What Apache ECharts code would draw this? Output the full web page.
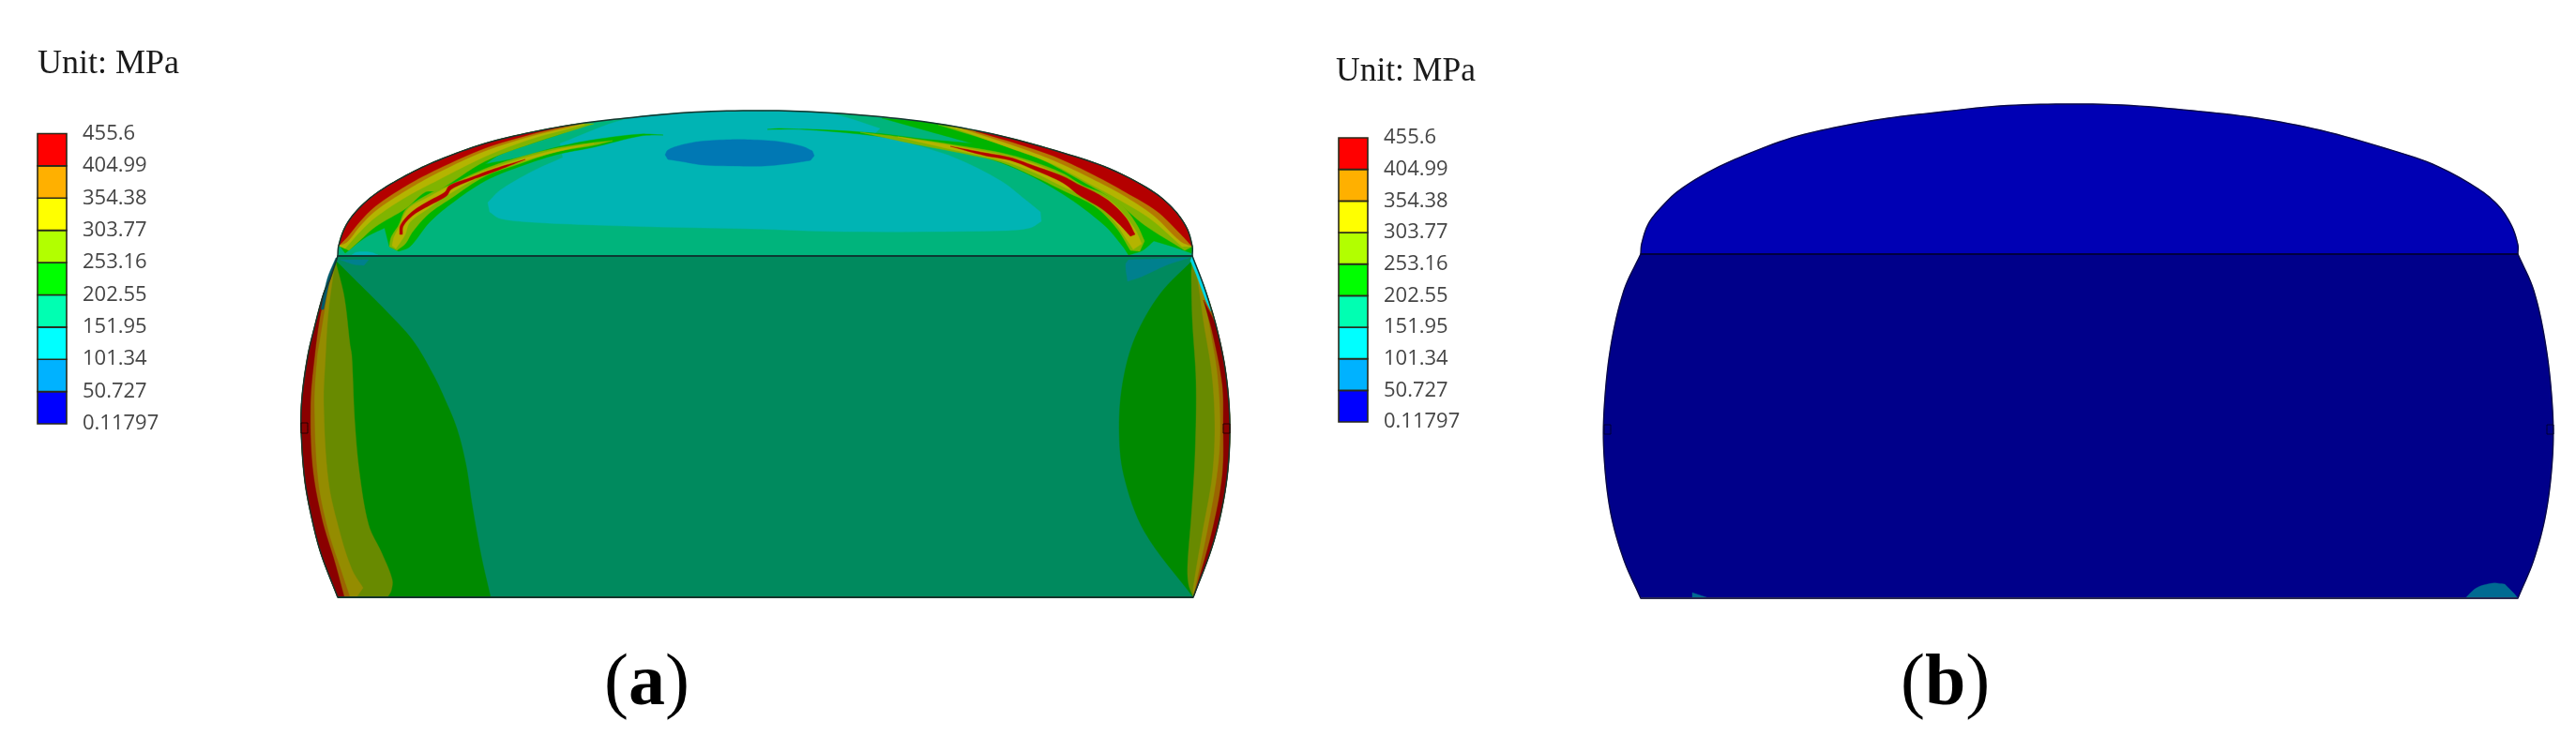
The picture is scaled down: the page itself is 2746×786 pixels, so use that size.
<!DOCTYPE html>
<html><head><meta charset="utf-8">
<style>html,body{margin:0;padding:0;background:#fff;overflow:hidden}#c{width:2746px;height:786px;filter:blur(0.6px)}</style>
<script src="https://cdn.jsdelivr.net/npm/echarts@6/dist/echarts.min.js"></script>
</head><body><div id="c"></div>
<script>
// Contour scale
const legendTicks = ['0.11797','50.727','101.34','151.95','202.55','253.16','303.77','354.38','404.99','455.6'];
const legendColors = ['#0000ff','#00b2ff','#00ffff','#00ffb2','#00ff00','#b2ff00','#ffff00','#ffb000','#ff0000'];
const unitLabel = 'Unit: MPa';
const captions = ['a','b'];

// Panel (a): outline, in picture units
const domeLeftEdge = [[361,262],[368,242],[380,225],[400,207],[433,187],[467,171],[517,153],[567,141],[617,132],[667,126]];
const domeTopEdge = [[733,120],[800,118]];
const domeRightEdge = [[860,119],[933,124],[1000,132],[1067,145],[1133,163],[1183,180],[1227,203],[1250,222],[1265,243],[1271,263]];
const bodyLeftEdge = [[360,273],[352,297],[345,313],[335,350],[328,380],[322,423],[321,457],[325,513],[334,560],[343,593],[360,637]];
const bodyRightEdge = [[1271,273],[1284,307],[1297,350],[1307,400],[1311,457],[1307,517],[1294,577],[1272,637]];

// Panel (a): dome contours
const capTeal = [[520,216],[522,226],[533,233],[567,237],[633,240],[700,242],[800,244],[900,247],[1069,246],[1098,243],[1110,236],[1109,226],[1093,213],[1067,193],[1017,168],[967,152],[933,142],[938,137],[890,122],[860,119],[800,118],[733,120],[667,127],[597,153],[600,168],[567,183],[533,203]];
const capBlue = [[709,165],[712,160],[725,155],[745,151],[775,149],[800,149],[830,151],[855,156],[866,161],[868,166],[864,171],[845,174],[815,177],[785,177],[750,176],[725,172],[712,170]];
const capSpot = [[375,272],[403,272],[395,269],[380,269]];
const domeGreenLeft = [[363,263],[368,270],[390,253],[410,243],[415,263],[425,268],[437,263],[457,238],[480,218],[517,193],[553,178],[593,165],[633,157],[683,145],[707,144],[683,143],[633,149],[593,157],[553,168],[517,175],[533,165],[567,153],[600,142],[620,133],[617,132],[567,141],[517,153],[467,171],[433,187],[400,207],[380,225],[368,242],[362,257]];
const domeGreenRight = [[1270,270],[1250,263],[1230,257],[1218,267],[1203,272],[1197,263],[1177,240],[1133,207],[1083,180],[1033,163],[983,153],[933,145],[883,140],[833,137],[818,138],[867,138],[933,142],[983,148],[1037,153],[990,140],[940,126],[1000,132],[1067,145],[1133,163],[1183,180],[1227,203],[1250,222],[1265,243],[1271,263]];
const limeLeftInner = [[372,267],[383,257],[400,242],[433,222],[453,205],[467,203],[517,172],[567,153],[633,132]];
const yellowLeftInner = [[368,265],[383,248],[400,232],[433,210],[467,192],[517,167],[567,148],[623,133]];
const orangeLeftInner = [[370,258],[383,242],[400,225],[433,203],[467,184],[517,161],[567,145],[617,133]];
const redLeftInner = [[370,253],[383,237],[400,220],[433,198],[467,180],[517,158],[567,143],[610,133]];
const limeRightInner = [[1263,267],[1220,240],[1190,215],[1153,193],[1110,170],[1070,155],[1000,133]];
const yellowRightInner = [[1260,263],[1227,234],[1193,213],[1160,195],[1120,174],[1077,158],[1010,134]];
const orangeRightInner = [[1258,257],[1230,230],[1197,208],[1163,190],[1123,171],[1083,156],[1025,137]];
const redRightInner = [[1257,248],[1233,225],[1200,205],[1167,187],[1127,168],[1093,156],[1040,140]];
const ribbonLimeLeft = [[415,263],[417,253],[425,240],[433,223],[457,207],[480,197],[517,180],[553,168],[593,158],[633,152],[653,150],[633,155],[593,162],[553,175],[517,188],[480,212],[457,228],[440,247],[432,260],[423,267]];
const ribbonYellowLeft = [[418,262],[420,253],[425,243],[435,223],[457,210],[480,198],[517,182],[557,169],[597,159],[633,153],[597,161],[557,172],[517,186],[482,205],[457,222],[437,237],[432,250],[427,258],[422,265]];
const ribbonRedLeft = [[426,250],[427,240],[439,226],[456,215],[474,205],[479,198],[500,190],[527,180],[560,170],[527,183],[500,193],[481,202],[476,209],[458,219],[441,229],[430,241],[429,250]];
const ribbonLimeRight = [[1220,257],[1212,240],[1197,220],[1177,207],[1153,197],[1133,185],[1100,172],[1067,163],[1033,157],[967,147],[917,141],[967,152],[1033,165],[1067,173],[1100,187],[1133,203],[1167,220],[1190,243],[1205,267],[1215,268]];
const ribbonYellowRight = [[1217,260],[1210,245],[1193,223],[1177,210],[1153,200],[1133,188],[1100,174],[1067,165],[1013,155],[957,146],[1013,159],[1067,171],[1100,183],[1133,199],[1167,215],[1187,235],[1202,257],[1208,266]];
const ribbonRedRight = [[1210,250],[1200,232],[1183,215],[1167,205],[1150,197],[1133,188],[1100,176],[1077,168],[1050,163],[1013,156],[1050,166],[1077,171],[1100,180],[1133,195],[1150,208],[1175,223],[1193,239],[1205,252]];

// Panel (a): body contours
const bodyGreenLeft = [[358,278],[383,303],[410,330],[440,363],[462,400],[473,423],[487,457],[497,497],[503,537],[513,593],[523,637]];
const bodyOliveLeft = [[358,280],[367,317],[373,367],[375,380],[378,447],[383,503],[393,560],[407,590],[418,618],[417,630],[413,637]];
const bodyYellowLeft = [[357,280],[350,333],[347,380],[345,430],[350,513],[362,567],[375,607],[387,627],[380,637]];
const bodyOrangeLeft = [[354,290],[350,307],[340,367],[338,380],[335,430],[339,513],[350,567],[363,607],[373,637]];
const bodyRedLeft = [[352,297],[342,333],[335,383],[331,430],[333,497],[343,553],[357,600],[367,637]];
const bodyGreenRight = [[1271,278],[1237,313],[1210,360],[1197,407],[1193,457],[1198,507],[1220,567],[1272,637]];
const bodyOliveRight = [[1271,278],[1270,290],[1271,340],[1275,407],[1274,483],[1270,550],[1266,603],[1267,623],[1272,637]];
const bodyYellowRight = [[1275,290],[1277,300],[1283,343],[1292,400],[1295,457],[1292,510],[1282,567],[1272,627],[1272,637]];
const bodyOrangeRight = [[1279,295],[1282,307],[1290,350],[1298,400],[1301,457],[1298,503],[1287,567],[1273,633]];
const bodyRedRight = [[1283,320],[1293,357],[1303,410],[1304,450],[1303,507],[1292,567],[1273,635]];
const bodyTealRight = [[1200,282],[1203,277],[1267,275],[1243,283],[1217,295],[1202,300]];
const bodyTealLeft = [[363,277],[393,277],[388,283],[377,282]];
const bodyEdgeRight = [[1271,273],[1284,307],[1291,332],[1286,322],[1276,295],[1269,278]];
const bodyEdgeLeft = [[360,275],[352,297],[345,330],[342,330],[349,297],[358,275]];
const markerA = [[[321,451],[328,451],[328,462],[321,462]],[[1304,452],[1311,452],[1311,462],[1304,462]]];
const dividerA = [[360,273],[1271,273]];
const baseA = [[360,637],[1272,637]];

// Panel (b): outline and contours
const domeB = [[1749,271],[1750,260],[1757,239],[1770,222],[1790,203],[1824,182],[1859,166],[1910,147],[1961,135],[2013,126],[2064,120],[2132,113],[2200,111],[2262,112],[2337,118],[2406,126],[2474,139],[2542,158],[2593,175],[2638,199],[2662,218],[2677,240],[2684,261],[2684,271]];
const bodyB = [[1749,271],[2684,271],[2701,310],[2714,370],[2721,437],[2721,487],[2714,547],[2701,597],[2684,638],[1749,638],[1731,597],[1717,547],[1710,487],[1710,437],[1717,370],[1731,310]];
const bodyBPatchRight = [[2628,638],[2640,627],[2657,622],[2670,623],[2680,633],[2684,638]];
const bodyBPatchLeft = [[1804,632],[1819,637],[1804,638]];
const markerB = [[[1710,453],[1717,453],[1717,463],[1710,463]],[[2715,453],[2722,453],[2722,463],[2715,463]]];
const dividerB = [[1749,271],[2684,271]];
const baseB = [[1749,638],[2684,638]];

// Contour colours as they appear under the lighting of each part
const cap = {main:'#00b47c',teal:'#00b4b4',blue:'#0078b4',green:'#00b400',lime:'#80b400',yellow:'#b4b400',orange:'#b47800',red:'#b40000'};
const body = {main:'#008a5e',teal:'#00808e',green:'#008a00',olive:'#688a00',yellow:'#948c00',orange:'#9a6400',red:'#8a0000'};

const leftBand = inner => inner.concat(domeLeftEdge.filter(p => p[0] < inner[inner.length-1][0]).reverse());
const rightBand = inner => inner.concat(domeRightEdge.filter(p => p[0] > inner[inner.length-1][0]));
const sideBand = (inner, edge) => inner.concat(edge.filter(p => p[1] >= inner[0][1] && p[1] <= inner[inner.length-1][1]).reverse());

const domeA = domeLeftEdge.concat(domeTopEdge, domeRightEdge, [[1271,273],[360,273]]);
const bodyA = bodyLeftEdge.concat(baseA.slice(1), bodyRightEdge.slice().reverse());

const fills = [
  [bodyA, body.main], [bodyTealRight, body.teal], [bodyTealLeft, body.teal],
  [sideBand(bodyGreenLeft, bodyLeftEdge), body.green],
  [sideBand(bodyOliveLeft, bodyLeftEdge), body.olive],
  [sideBand(bodyYellowLeft, bodyLeftEdge), body.yellow],
  [sideBand(bodyOrangeLeft, bodyLeftEdge), body.orange],
  [sideBand(bodyRedLeft, bodyLeftEdge), body.red],
  [sideBand(bodyGreenRight, bodyRightEdge), body.green],
  [sideBand(bodyOliveRight, bodyRightEdge), body.olive],
  [sideBand(bodyYellowRight, bodyRightEdge), body.yellow],
  [sideBand(bodyOrangeRight, bodyRightEdge), body.orange],
  [sideBand(bodyRedRight, bodyRightEdge), body.red],
  [bodyEdgeRight, '#00d8e8'], [bodyEdgeLeft, '#005a6a'],
  [domeA, cap.main], [capTeal, cap.teal], [capBlue, cap.blue], [capSpot, cap.teal],
  [domeGreenLeft, cap.green], [domeGreenRight, cap.green],
  [leftBand(limeLeftInner), cap.lime], [leftBand(yellowLeftInner), cap.yellow],
  [leftBand(orangeLeftInner), cap.orange], [leftBand(redLeftInner), cap.red],
  [rightBand(limeRightInner), cap.lime], [rightBand(yellowRightInner), cap.yellow],
  [rightBand(orangeRightInner), cap.orange], [rightBand(redRightInner), cap.red],
  [ribbonLimeLeft, cap.lime], [ribbonYellowLeft, cap.yellow], [ribbonRedLeft, cap.red],
  [ribbonLimeRight, cap.lime], [ribbonYellowRight, cap.yellow], [ribbonRedRight, cap.red],
  [domeB, '#0000b4'], [bodyB, '#00008a'], [bodyBPatchRight, '#006a92'], [bodyBPatchLeft, '#006a92']
];
const strokes = [
  [domeA, '#17352e', 1.5, true], [bodyA, '#17352e', 1.5, true],
  [dividerA, '#0c3a33', 2.2, false], [baseA, '#14352c', 2, false],
  [domeB, '#0a0a4a', 1.4, true], [bodyB, '#0a0a4a', 1.4, true],
  [dividerB, '#000040', 2.2, false], [baseB, '#2a2a50', 2, false],
  [markerA[0], '#220000', 1, true], [markerA[1], '#220000', 1, true],
  [markerB[0], '#000030', 1, true], [markerB[1], '#000030', 1, true]
];

// Draws a curve through the read points; vertices with a sharp turn stay corners.
function projected(api, pts, closed) {
  const p = pts.map(q => api.coord(q)), n = p.length;
  if (n < 3) return p;
  const at = i => closed ? p[(i + n) % n] : p[Math.max(0, Math.min(n - 1, i))];
  const unit = (a, b) => { const x = b[0]-a[0], y = b[1]-a[1], l = Math.hypot(x, y) || 1; return [x/l, y/l]; };
  const tangent = i => {
    const d0 = unit(at(i-1), at(i)), d1 = unit(at(i), at(i+1));
    if (d0[0]*d1[0] + d0[1]*d1[1] < 0.77) return {in: d0, out: d1};
    const m = unit(at(i-1), at(i+1));
    return {in: m, out: m};
  };
  const out = [], segs = closed ? n : n - 1;
  for (let i = 0; i < segs; i++) {
    const a = at(i), b = at(i+1), l = Math.hypot(b[0]-a[0], b[1]-a[1]);
    const t0 = tangent(i).out, t1 = tangent(i+1).in;
    for (let k = 0; k < 8; k++) {
      const t = k/8, t2 = t*t, t3 = t2*t;
      const h00 = 2*t3-3*t2+1, h10 = t3-2*t2+t, h01 = -2*t3+3*t2, h11 = t3-t2;
      out.push([h00*a[0]+h10*l*t0[0]+h01*b[0]+h11*l*t1[0], h00*a[1]+h10*l*t0[1]+h01*b[1]+h11*l*t1[1]]);
    }
  }
  if (!closed) out.push(p[n-1]);
  return out;
}

function legendGrid(i) {
  return {
    xAxis: {gridIndex: i, type: 'value', min: 0, max: 1, show: false},
    yAxis: {gridIndex: i, type: 'value', min: 0, max: legendTicks.length - 1, interval: 1, position: 'right',
      axisLine: {show: false}, axisTick: {show: false}, splitLine: {show: false},
      axisLabel: {show: true, margin: 17, color: '#454545', fontFamily: 'Open Sans', fontSize: 22,
        padding: [0, 0, 8, 0], showMinLabel: true, showMaxLabel: true, align: 'left',
        formatter: v => legendTicks[v]}}
  };
}
function legendSeries(i) {
  return {
    type: 'custom', xAxisIndex: i, yAxisIndex: i, clip: false,
    data: legendColors.map((c, k) => [k, k + 1]),
    renderItem: (params, api) => {
      const a = api.coord([0, api.value(1)]), b = api.coord([1, api.value(0)]);
      return {type: 'rect', shape: {x: a[0], y: a[1], width: b[0] - a[0], height: b[1] - a[1]},
        style: {fill: legendColors[params.dataIndex], stroke: '#2a2a1a', lineWidth: 1.6}};
    }
  };
}
const lg1 = legendGrid(1), lg2 = legendGrid(2);
const captionRich = {
  p: {fontFamily: 'Liberation Serif', fontWeight: 'normal', fontSize: 78, color: '#000'},
  b: {fontFamily: 'Liberation Serif', fontWeight: 'bold', fontSize: 78, color: '#000'}
};

const option = {
  animation: false, backgroundColor: '#fff',
  grid: [
    {left: 0, top: 0, width: 2746, height: 786},
    {left: 40, top: 142.5, width: 31, height: 309.5},
    {left: 1427, top: 147, width: 31, height: 303}
  ],
  xAxis: [{gridIndex: 0, type: 'value', min: 0, max: 2746, show: false}, lg1.xAxis, lg2.xAxis],
  yAxis: [{gridIndex: 0, type: 'value', min: 0, max: 786, inverse: true, show: false}, lg1.yAxis, lg2.yAxis],
  title: [
    {text: unitLabel, left: 40, top: 51, padding: 0, textStyle: {fontFamily: 'Liberation Serif', fontWeight: 'normal', fontSize: 36, color: '#1a1a1a'}},
    {text: unitLabel, left: 1424, top: 59, padding: 0, textStyle: {fontFamily: 'Liberation Serif', fontWeight: 'normal', fontSize: 35.5, color: '#1a1a1a'}},
    {text: '{p|(}{b|' + captions[0] + '}{p|)}', left: 644, top: 692, padding: 0, textStyle: {rich: captionRich}},
    {text: '{p|(}{b|' + captions[1] + '}{p|)}', left: 2026, top: 692, padding: 0, textStyle: {rich: captionRich}}
  ],
  series: [
    {type: 'custom', xAxisIndex: 0, yAxisIndex: 0, clip: false, z: 2,
      data: fills.map((f, i) => [i]),
      renderItem: (params, api) => ({type: 'polygon',
        shape: {points: projected(api, fills[params.dataIndex][0], true)},
        style: {fill: fills[params.dataIndex][1], stroke: fills[params.dataIndex][1], lineWidth: 0.4}})},
    {type: 'custom', xAxisIndex: 0, yAxisIndex: 0, clip: false, z: 3,
      data: strokes.map((s, i) => [i]),
      renderItem: (params, api) => {
        const s = strokes[params.dataIndex];
        return {type: s[3] ? 'polygon' : 'polyline', shape: {points: projected(api, s[0], s[3])},
          style: {fill: null, stroke: s[1], lineWidth: s[2]}};
      }},
    legendSeries(1), legendSeries(2)
  ]
};
echarts.init(document.getElementById('c'), null, {renderer: 'canvas'}).setOption(option);
</script></body></html>
